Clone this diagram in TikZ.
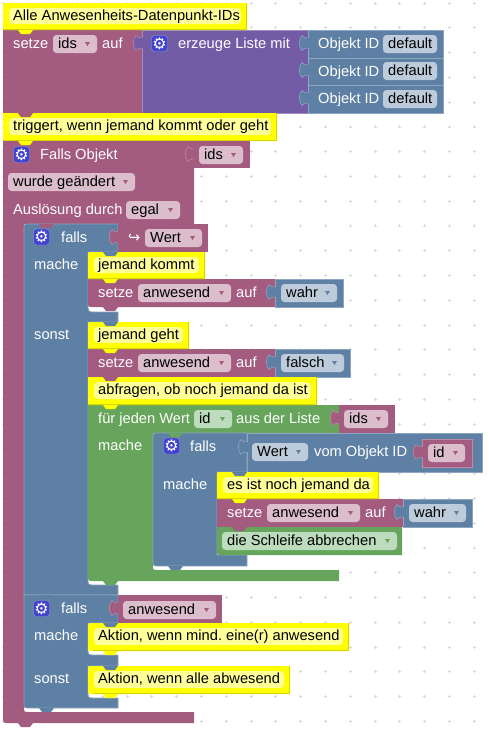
\documentclass[tikz,border=0pt]{standalone}
\usepackage{fontspec}
\setmainfont{Liberation Sans}
\newfontfamily\symfont{DejaVu Sans}
\usepackage{xcolor}
\frenchspacing
\definecolor{magcol}{HTML}{A35B80}
\definecolor{magline}{HTML}{BC8BA6}
\definecolor{magfield}{HTML}{DBBDCC}
\definecolor{bluecol}{HTML}{5F80A5}
\definecolor{blueline}{HTML}{8CA6C0}
\definecolor{bluefield}{HTML}{BDCCDB}
\definecolor{purcol}{HTML}{745BA5}
\definecolor{purline}{HTML}{9C8BC0}
\definecolor{greencol}{HTML}{66A55B}
\definecolor{greenline}{HTML}{8FBE87}
\definecolor{greenfield}{HTML}{BDDBBD}
\definecolor{combody}{HTML}{FFFF00}
\definecolor{comline}{HTML}{D6D600}
\definecolor{comfield}{HTML}{FFFF99}
\definecolor{gearcol}{HTML}{4343CF}
\newcommand{\notch}[3]{\fill[#1] (#2,#3) -- ++(3,4) -- ++(9,0) -- ++(3,-4) -- cycle;}
\newcommand{\tabshape}[3]{\draw[fill=#1col,draw=#1line,line width=.6pt] (#2,{#3+2}) .. controls ({#2-3},{#3+2}) .. ({#2-6},{#3-.5}) .. controls ({#2-9.5},{#3+3}) and ({#2-9.5},{#3+11}) .. ({#2-6},{#3+14.5}) .. controls ({#2-3},{#3+12}) .. (#2,{#3+12});
  \fill[#1col] ({#2-1},{#3+2.3}) rectangle ({#2+1},{#3+11.7});}
\newcommand{\lbl}[4]{\node[blocktext,anchor=west] (#1) at (#2,{#3+1.5}) {#4};}
\newcommand{\fieldbox}[7]{\fill[#1,rounded corners=3.5pt] (#3,#4) rectangle (#5,#6);
  \node[fieldtext,anchor=west] (#2) at ({#3+5},{(#4+#6)/2+1}) {#7};}
\newcommand{\ddfield}[7]{\fieldbox{#1field}{#2}{#3}{#4}{#5}{#6}{#7}
  \fill[#1col] ({#5-12},{(#4+#6)/2-2}) -- ++(5,0) -- ++(-2.5,4) -- cycle;}
\newcommand{\gearicon}[3]{\node[gearbox] (#1) at (#2,#3) {\symfont ⚙};}
\newcommand{\commentblock}[8]{\fill[combody] (#2,{#3+#6}) .. controls (#2,#3) .. ({#2+#6},#3) -- (#4,#3) -- (#4,#5) -- ({#2+#7},#5) .. controls (#2,#5) .. (#2,{#5-#7}) -- cycle;
  \draw[comline,line width=1pt] ({#2+#7},{#5-.5}) -- ({#4-.5},{#5-.5}) -- ({#4-.5},#3);
  \fill[comfield,rounded corners=4pt] ({#2+6},{#3+5}) rectangle ({#4-6},{#5-6});
  \node[fieldtext,anchor=west] (#1) at ({#2+10},{(#3+#5)/2}) {#8};}
\begin{document}
\begin{tikzpicture}[x=1pt,y=-1pt,font=\fontsize{14.67}{16}\selectfont,
  blocktext/.style={text=white,inner sep=0pt,text height=10.5pt,text depth=3pt},
  fieldtext/.style={text=black,inner sep=0pt,text height=10.5pt,text depth=3pt},
  gearbox/.style={fill=gearcol,draw=blueline,rounded corners=3pt,minimum size=16pt,inner sep=0pt,text=white,font=\fontsize{16}{16}\selectfont},
  griddot/.style={gray!30,line width=.7pt},
  magblock/.style={fill=magcol,draw=magline,line width=.6pt},
  blueblock/.style={fill=bluecol,draw=blueline,line width=.6pt},
  purblock/.style={fill=purcol,draw=purline,line width=.6pt},
  greenblock/.style={fill=greencol,draw=greenline,line width=.6pt}]
\useasboundingbox (0,0) rectangle (490,732);
\fill[white] (0,0) rectangle (490,732);
\foreach \i in {0,...,19}
  \foreach \j in {0,...,29}
    \draw[griddot] ({3+24.8*\i-1.5},{3+24.77*\j}) -- ++(3,0) ++(-1.5,-1.5) -- ++(0,3);
% top row
\fill[magcol] (3,30) rectangle (142,113);
\draw[purblock] (142,30) rectangle (308,113);
\tabshape{pur}{142}{36}
\draw[blueblock] (308,30) rectangle (443,58);
\draw[blueblock] (308,58) rectangle (443,85);
\draw[blueblock] (308,85) rectangle (443,113);
\tabshape{blue}{308}{36}
\tabshape{blue}{308}{63}
\tabshape{blue}{308}{91}
\commentblock{comIds}{3}{3}{247}{30}{0}{0}{Alle Anwesenheits-Datenpunkt-IDs}
\commentblock{comTrigger}{3}{113}{277}{141}{0}{0}{triggert, wenn jemand kommt oder geht}
% trigger block
\fill[magcol] (3,141) -- (194,141) -- (194,224) -- (24,224) -- (24,707) .. controls (24,712) .. (29,712) -- (194,712) -- (194,723) -- (9,723) .. controls (3,723) .. (3,717) -- cycle;
\fill[magcol] (194,141) rectangle (250,168);
\tabshape{mag}{194}{147}
% first falls
\draw[blueblock] (29,224) -- (118,224) -- (118,252) -- (88,252) -- (88,303) .. controls (88,312) .. (95,312) -- (118,312) -- (118,322) -- (88,322) -- (88,578) .. controls (88,585) .. (95,585) -- (118,585) -- (118,595) -- (24,595) -- (24,229) .. controls (24,224) .. (29,224) -- cycle;
\fill[magcol] (118,224) rectangle (208,252);
\tabshape{mag}{118}{230}
\fill[magcol] (88,279) -- (275,279) -- (275,307) -- (93,307) .. controls (88,307) .. (88,302) -- cycle;
\draw[blueblock] (275,279) rectangle (343,307);
\tabshape{blue}{275}{285}
\fill[magcol] (88,349) rectangle (275,377);
\draw[blueblock] (275,349) rectangle (350,377);
\tabshape{blue}{275}{355}
% loop
\fill[greencol] (88,405) -- (339,405) -- (339,433) -- (153,433) -- (153,565) .. controls (153,570) .. (158,570) -- (339,570) -- (339,581) -- (94,581) .. controls (88,581) .. (88,575) -- cycle;
\fill[magcol] (339,405) rectangle (395,433);
\tabshape{mag}{339}{411}
% inner falls
\draw[blueblock] (158,433) -- (247,433) -- (247,472) -- (217,472) -- (217,555) -- (247,555) -- (247,566) -- (158,566) .. controls (153,566) .. (153,561) -- (153,438) .. controls (153,433) .. (158,433) -- cycle;
\draw[blueblock] (247,433) rectangle (482,472);
\tabshape{blue}{247}{440}
\draw[magblock] (422,439) rectangle (472,467);
\tabshape{mag}{422}{445}
\fill[magcol] (217,499) rectangle (403,527);
\draw[blueblock] (403,499) rectangle (472,527);
\tabshape{blue}{403}{505}
\fill[greencol] (217,527) -- (402,527) -- (402,555) -- (222,555) .. controls (217,555) .. (217,550) -- cycle;
% second falls
\draw[blueblock] (24,595) -- (118,595) -- (118,623) -- (88,623) -- (88,648) .. controls (88,655) .. (95,655) -- (118,655) -- (118,666) -- (88,666) -- (88,691) .. controls (88,698) .. (95,698) -- (118,698) -- (118,708) -- (29,708) .. controls (24,708) .. (24,703) -- cycle;
\fill[magcol] (118,595) rectangle (222,623);
\tabshape{mag}{118}{601}
% comments
\commentblock{comKommt}{88}{252}{205}{279}{5}{0}{jemand kommt}
\commentblock{comGeht}{88}{322}{189}{349}{5}{0}{jemand geht}
\commentblock{comAbfrage}{88}{377}{317}{405}{0}{0}{abfragen, ob noch jemand da ist}
\commentblock{comNoch}{217}{472}{379}{499}{5}{0}{es ist noch jemand da}
\commentblock{comMind}{88}{623}{349}{651}{5}{5}{Aktion, wenn mind. eine(r) anwesend}
\commentblock{comAlle}{88}{666}{290}{694}{5}{5}{Aktion, wenn alle abwesend}
% notches
\notch{combody}{18}{30}
\notch{magcol}{18}{113}
\notch{combody}{18}{141}
\notch{magcol}{39}{224}
\notch{bluecol}{103}{252}
\notch{combody}{103}{279}
\notch{magcol}{103}{307}
\notch{bluecol}{103}{322}
\notch{combody}{103}{349}
\notch{magcol}{103}{377}
\notch{combody}{103}{405}
\notch{greencol}{168}{433}
\notch{bluecol}{232}{472}
\notch{combody}{232}{499}
\notch{magcol}{232}{527}
\notch{bluecol}{168}{566}
\notch{greencol}{103}{581}
\notch{bluecol}{39}{595}
\notch{bluecol}{103}{623}
\notch{combody}{103}{651}
\notch{bluecol}{103}{666}
\notch{combody}{103}{694}
\notch{bluecol}{39}{708}
\notch{magcol}{18}{723}
% texts
\lbl{setzeIds}{13}{43}{setze}
\ddfield{mag}{idsA}{53}{35}{97}{53}{ids}
\lbl{aufIds}{102}{43}{auf}
\gearicon{gearListe}{159.5}{43.5}
\lbl{liste}{178}{43}{erzeuge Liste mit}
\lbl{objA}{318}{43}{Objekt ID}
\lbl{objB}{318}{71}{Objekt ID}
\lbl{objC}{318}{98}{Objekt ID}
\fieldbox{bluefield}{defA}{383}{35}{437}{53}{default}
\fieldbox{bluefield}{defB}{383}{62}{437}{80}{default}
\fieldbox{bluefield}{defC}{383}{90}{437}{108}{default}
\gearicon{gearObjekt}{21.5}{154.5}
\lbl{fallsObjekt}{40}{154}{Falls Objekt}
\ddfield{mag}{idsB}{199}{146}{243}{164}{ids}
\ddfield{mag}{geaendert}{8}{173}{135}{191}{wurde geändert}
\lbl{ausloesung}{13}{209}{Auslösung durch}
\ddfield{mag}{egal}{126}{201}{180}{219}{egal}
\gearicon{gearFalls}{41.5}{237}
\lbl{fallsA}{61}{237}{falls}
\node[blocktext,anchor=west] (hook) at (128,238.5) {\symfont ↪};
\ddfield{mag}{wert}{145}{229}{202}{247}{Wert}
\lbl{macheA}{34}{264}{mache}
\lbl{setzeA}{98}{292}{setze}
\ddfield{mag}{anwA}{138}{284}{231}{302}{anwesend}
\lbl{aufA}{236}{292}{auf}
\ddfield{blue}{wahrA}{281}{284}{337}{302}{wahr}
\lbl{sonstA}{34}{334}{sonst}
\lbl{setzeB}{98}{362}{setze}
\ddfield{mag}{anwB}{138}{354}{231}{372}{anwesend}
\lbl{aufB}{236}{362}{auf}
\ddfield{blue}{falsch}{281}{354}{344}{372}{falsch}
\lbl{fuerJeden}{98}{418}{für jeden Wert}
\ddfield{green}{idA}{194}{410}{232}{428}{id}
\lbl{ausListe}{236}{418}{aus der Liste}
\ddfield{mag}{idsC}{344}{410}{388}{428}{ids}
\lbl{macheB}{98}{445}{mache}
\gearicon{gearInner}{171.5}{446}
\lbl{fallsB}{190}{446}{falls}
\ddfield{blue}{wertB}{252}{443}{308}{461}{Wert}
\lbl{vomObjekt}{314}{451}{vom Objekt ID}
\ddfield{mag}{idB}{428}{444}{465}{462}{id}
\lbl{macheC}{163}{484}{mache}
\lbl{setzeC}{227}{512}{setze}
\ddfield{mag}{anwC}{267}{504}{360}{522}{anwesend}
\lbl{aufC}{365}{512}{auf}
\ddfield{blue}{wahrC}{409}{504}{466}{522}{wahr}
\ddfield{green}{abbrechen}{222}{532}{397}{550}{die Schleife abbrechen}
\gearicon{gearZwei}{41.5}{608.5}
\lbl{fallsC}{61}{608}{falls}
\ddfield{mag}{anwD}{123}{601}{216}{619}{anwesend}
\lbl{macheD}{34}{635}{mache}
\lbl{sonstD}{34}{678}{sonst}
\end{tikzpicture}
\end{document}
